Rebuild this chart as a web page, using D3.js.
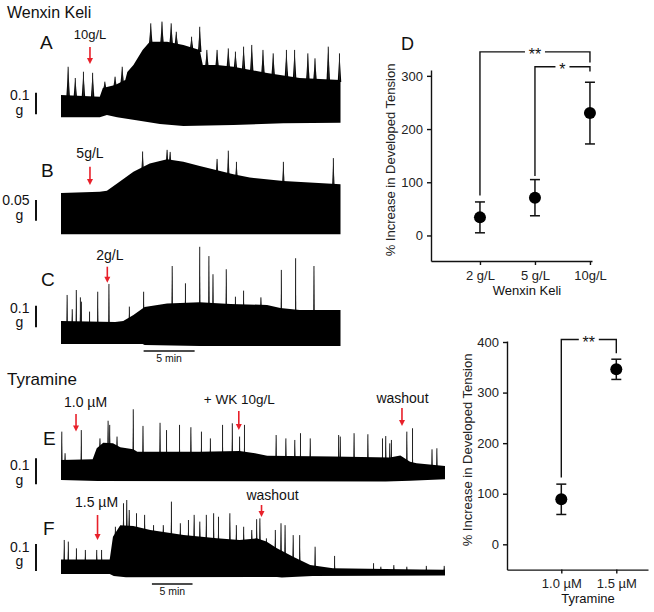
<!DOCTYPE html>
<html><head><meta charset="utf-8">
<script src="https://cdn.jsdelivr.net/npm/d3@7"></script>
<style>
body{margin:0;background:#fff;}
svg{display:block;font-family:"Liberation Sans",Arial,sans-serif;}
</style></head><body>
<svg id="chart" width="654" height="612"></svg>
<script>
// ---------------- DATA ----------------
// Tension traces: [time (min), tension (g)] relative to the initial resting level
const traceA_top = [[0,0.103],[3.8,0.095],[4.1,0.136],[5.3,0.150],[6.3,0.173],[6.5,0.210],[7.1,0.242],[8.0,0.312],[8.7,0.350],[10.4,0.350],[12.0,0.335],[13.6,0.312],[13.9,0.242],[15.3,0.242],[16.9,0.234],[20.2,0.205],[23.4,0.182],[27.4,0.173]];
const traceA_bottom = [[0,0],[3.8,0],[4.5,0.011],[5.5,0],[7.7,-0.016],[9.7,-0.031],[12.0,-0.040],[16.9,-0.036],[21.8,-0.028],[27.4,-0.025]];
const traceA_spikes = [[0.7,0.234],[1.4,0.182],[2.2,0.211],[3.1,0.206],[4.3,0.165],[5.3,0.188],[6.0,0.234],[8.8,0.435],[9.9,0.443],[10.8,0.435],[11.3,0.396],[12.8,0.373],[13.6,0.419],[14.3,0.312],[15.3,0.312],[16.4,0.319],[17.1,0.304],[17.9,0.327],[18.7,0.335],[19.8,0.312],[20.8,0.296],[22.1,0.312],[22.9,0.312],[24.2,0.296],[24.9,0.273],[26.2,0.327],[27.3,0.296]];

const traceB_top = [[0,0.100],[3.8,0.103],[4.5,0.105],[5.5,0.123],[7.1,0.151],[8.7,0.171],[10.4,0.181],[12.0,0.175],[13.6,0.165],[15.3,0.155],[16.9,0.145],[18.5,0.137],[21.8,0.129],[27.4,0.121]];
const traceB_bottom = [[0,0],[27.4,0]];
const traceB_spikes = [[8.0,0.200],[10.4,0.204],[10.7,0.199],[15.3,0.182],[16.4,0.202],[17.2,0.175],[21.8,0.175],[26.7,0.184]];

const traceC_top = [[0,0.106],[5.3,0.102],[6.1,0.106],[7.1,0.134],[8.2,0.171],[10.4,0.188],[13.6,0.193],[16.6,0.185],[20.2,0.181],[21.5,0.167],[23.4,0.157],[27.4,0.157]];
const traceC_bottom = [[0,0],[8.0,0],[8.2,-0.005],[13.6,-0.009],[27.4,-0.009]];
const traceC_spikes = [[0.6,0.227],[1.1,0.161],[1.5,0.250],[1.9,0.216],[2.0,0.196],[2.8,0.150],[3.6,0.242],[4.7,0.278],[6.7,0.173],[8.1,0.242],[10.9,0.361],[12.2,0.281],[13.6,0.450],[14.5,0.407],[14.9,0.323],[16.2,0.346],[17.1,0.219],[17.9,0.247],[19.6,0.216],[21.6,0.343],[23.0,0.397],[24.8,0.361]];

const traceE_top = [[0,0.077],[3.9,0.080],[4.4,0.122],[5.2,0.143],[6.4,0.141],[7.3,0.126],[8.9,0.118],[9.4,0.109],[17.1,0.109],[22.0,0.112],[23.9,0.103],[25.4,0.093],[33.5,0.090],[40.5,0.087],[41.8,0.094],[43.0,0.070],[43.8,0.064],[47.3,0.054]];
const traceE_bottom = [[0,0],[4.5,-0.004],[40,-0.006],[43,-0.003],[47.3,0.003]];
const traceE_spikes = [[0.1,0.186],[0.5,0.103],[2.5,0.192],[4.8,0.160],[5.8,0.228],[6.0,0.212],[6.9,0.167],[8.9,0.272],[10.1,0.208],[12.2,0.220],[13.0,0.192],[14.6,0.212],[16.0,0.203],[17.3,0.186],[18.4,0.160],[19.9,0.212],[21.1,0.218],[22.0,0.167],[22.6,0.212],[26.5,0.173],[27.7,0.160],[28.8,0.154],[29.5,0.180],[30.7,0.160],[34.2,0.173],[34.4,0.167],[36.1,0.180],[37.8,0.176],[39.6,0.160],[40.0,0.169],[40.5,0.141],[40.7,0.154],[42.6,0.186],[43.3,0.199],[45.7,0.118],[46.3,0.122]];

const traceF_top = [[0,0.054],[6.0,0.054],[6.4,0.138],[7.3,0.181],[8.9,0.178],[11.0,0.163],[15.1,0.144],[19.2,0.132],[22.0,0.126],[24.1,0.132],[25.3,0.120],[26.6,0.095],[28.6,0.064],[30.7,0.033],[33.5,0.021],[44.2,0.017],[47.3,0.016]];
const traceF_bottom = [[0,0],[6.0,0],[6.5,-0.007],[8.0,-0.012],[26.6,-0.011],[27.2,-0.013],[31,-0.007],[47.3,-0.006]];
const traceF_spikes = [[0.4,0.126],[0.9,0.120],[1.9,0.095],[3.0,0.089],[4.4,0.089],[5.0,0.089],[6.7,0.175],[7.7,0.262],[8.1,0.274],[8.4,0.237],[9.3,0.225],[10.3,0.219],[11.4,0.181],[12.6,0.181],[13.6,0.268],[14.7,0.188],[15.7,0.200],[16.4,0.219],[17.1,0.194],[17.9,0.219],[18.8,0.225],[19.4,0.212],[20.8,0.225],[21.6,0.181],[22.5,0.175],[23.5,0.163],[24.1,0.203],[24.5,0.206],[25.3,0.132],[26.4,0.163],[27.1,0.188],[27.6,0.181],[28.6,0.144],[29.4,0.144],[31.3,0.101],[33.7,0.067],[38.5,0.040],[39.4,0.027],[41.0,0.033],[42.6,0.027],[45.0,0.030],[47.2,0.030]];

// Drug additions (time, min) and labels
const eventsA_t = [2.84], eventsA_label = ["10g/L"];
const eventsB_t = [2.84], eventsB_label = ["5g/L"];
const eventsC_t = [4.54], eventsC_label = ["2g/L"];
const eventsE_t = [1.85, 21.9, 42.0], eventsE_label = ["1.0 µM", "+ WK 10g/L", "washout"];
const eventsF_t = [4.5, 24.7], eventsF_label = ["1.5 µM", "washout"];

// Summary dot plots (% increase in developed tension, mean ± SEM)
const wkDoses = ["2 g/L", "5 g/L", "10g/L"];
const wkMean = [34, 71, 230];
const wkSem = [29, 34, 58];
const wkTicks = [0, 100, 200, 300];
const wkBrackets = [[0, 2, 345, 75, 325, "**"], [1, 2, 317, 112, 308, "*"]];

const tyrDoses = ["1.0 µM", "1.5 µM"];
const tyrMean = [89, 346];
const tyrSem = [30, 20];
const tyrTicks = [0, 100, 200, 300, 400];
const tyrBrackets = [[0, 1, 405, 132, 378, "**"]];

// ---------------- DRAWING ----------------
const svg = d3.select("#chart");
svg.append("rect").attr("width", 654).attr("height", 612).attr("fill", "#fff");
const RED = "#e8202a";

function text(x, y, s, size, anchor, extra) {
  const t = svg.append("text").attr("x", x).attr("y", y).attr("font-size", size)
    .attr("text-anchor", anchor || "start").attr("fill", "#111").text(s);
  if (extra) extra(t);
  return t;
}

function arrow(x, y1, y2) {
  svg.append("line").attr("x1", x).attr("x2", x).attr("y1", y1).attr("y2", y2 - 5)
    .attr("stroke", RED).attr("stroke-width", 1.6);
  svg.append("path").attr("d", d3.line()([[x - 3, y2 - 6], [x + 3, y2 - 6], [x, y2]]) + "Z").attr("fill", RED);
}

function drawTrace(cfg) {
  const x = d3.scaleLinear().domain([0, cfg.dur]).range([cfg.x0, cfg.x1]);
  const y = d3.scaleLinear().domain([0, cfg.unit]).range([cfg.yBase, cfg.yBase - cfg.unitPx]);
  const env = d3.scaleLinear().domain(cfg.top.map(d => d[0])).range(cfg.top.map(d => d[1])).clamp(true);
  const g = svg.append("g");
  cfg.spikes.forEach(d => {
    const xb = x(d[0]), yb = y(env(d[0])) + 2, yp = y(d[1]);
    g.append("path").attr("d", d3.line()([[xb - cfg.hw, yb], [xb, yp], [xb + cfg.hw, yb]]) + "Z")
      .attr("fill", "#000");
    g.append("line").attr("x1", xb).attr("x2", xb).attr("y1", yb).attr("y2", yp)
      .attr("stroke", "#222").attr("stroke-width", 1);
  });
  const pts = cfg.top.map(d => [x(d[0]), y(d[1])])
    .concat(cfg.bottom.slice().reverse().map(d => [x(d[0]), y(d[1])]));
  g.append("path").attr("d", d3.line()(pts) + "Z").attr("fill", "#000");
  const len = y(0) - y(cfg.unit);
  svg.append("line").attr("x1", 36).attr("x2", 36).attr("y1", cfg.barTop).attr("y2", cfg.barTop + len)
    .attr("stroke", "#111").attr("stroke-width", 2);
  text(29.5, cfg.unitY, cfg.unitLabel, 14, "end");
  text(19.5, cfg.unitY + 14.5, "g", 14, "middle");
  text(cfg.letterX, cfg.letterY, cfg.letter, 19, "start");
  cfg.events.forEach((t, i) => {
    const a = cfg.arrows[i];
    arrow(x(t), a[0], a[1]);
    text(x(t) + a[3], a[2], cfg.labels[i], a[4] || 14, "middle");
  });
  if (cfg.timeBar) {
    const tb = cfg.timeBar;
    svg.append("line").attr("x1", x(tb[0])).attr("x2", x(tb[0] + 5)).attr("y1", tb[1]).attr("y2", tb[1])
      .attr("stroke", "#111").attr("stroke-width", 1.5);
    text((x(tb[0]) + x(tb[0] + 5)) / 2, tb[1] + 11, "5 min", 10.5, "middle");
  }
}

text(7, 18, "Wenxin Keli", 16, "start");
text(7, 385, "Tyramine", 17, "start");

drawTrace({dur: 27.4, x0: 61, x1: 340.5, unit: 0.1, unitPx: 21.6, yBase: 117.3,
  top: traceA_top, bottom: traceA_bottom, spikes: traceA_spikes, hw: 1.8,
  barTop: 92.7, unitY: 100, unitLabel: "0.1", letter: "A", letterX: 40, letterY: 49,
  events: eventsA_t, labels: eventsA_label, arrows: [[47, 64, 39, 0, 13]]});

drawTrace({dur: 27.4, x0: 61, x1: 340.5, unit: 0.05, unitPx: 20.7, yBase: 234.3,
  top: traceB_top, bottom: traceB_bottom, spikes: traceB_spikes, hw: 1.2,
  barTop: 200, unitY: 205, unitLabel: "0.05", letter: "B", letterX: 41, letterY: 177,
  events: eventsB_t, labels: eventsB_label, arrows: [[166.7, 185, 158.3, 0]]});

drawTrace({dur: 27.4, x0: 61, x1: 340.5, unit: 0.1, unitPx: 21.6, yBase: 344,
  top: traceC_top, bottom: traceC_bottom, spikes: traceC_spikes, hw: 0.6,
  barTop: 305.7, unitY: 312.7, unitLabel: "0.1", letter: "C", letterX: 41, letterY: 286,
  events: eventsC_t, labels: eventsC_label, arrows: [[266.7, 282.7, 260, 2.5]],
  timeBar: [8.1, 351]});

drawTrace({dur: 47.3, x0: 61, x1: 445, unit: 0.1, unitPx: 26, yBase: 480,
  top: traceE_top, bottom: traceE_bottom, spikes: traceE_spikes, hw: 0.6,
  barTop: 458.3, unitY: 470, unitLabel: "0.1", letter: "E", letterX: 43, letterY: 445,
  events: eventsE_t, labels: eventsE_label,
  arrows: [[414, 431.5, 406.5, 9.5], [411, 430, 403.5, 0.5, 13.5], [408, 426, 403, 0.5]]});

drawTrace({dur: 47.3, x0: 61, x1: 445, unit: 0.1, unitPx: 27, yBase: 574,
  top: traceF_top, bottom: traceF_bottom, spikes: traceF_spikes, hw: 0.7,
  barTop: 544, unitY: 551.7, unitLabel: "0.1", letter: "F", letterX: 43, letterY: 535,
  events: eventsF_t, labels: eventsF_label,
  arrows: [[515, 540, 506.7, -1], [505, 517, 500, 11]],
  timeBar: [11.2, 584]});

// ---------------- Dot plots ----------------
function dotPlot(cfg) {
  const x = d3.scalePoint().domain(cfg.cats).range([cfg.xl, cfg.xr]).padding(cfg.pad).align(cfg.align);
  const y = d3.scaleLinear().domain(cfg.ydom).range([cfg.yb, cfg.yt]);
  const g = svg.append("g");
  const xa = g.append("g").attr("transform", `translate(0,${cfg.yb})`)
    .call(d3.axisBottom(x).tickSize(4).tickSizeOuter(0).tickPadding(cfg.xpad));
  const ya = g.append("g").attr("transform", `translate(${cfg.xl},0)`)
    .call(d3.axisLeft(y).tickValues(cfg.ticks).tickSize(4).tickSizeOuter(0).tickPadding(4));
  [xa, ya].forEach(a => {
    a.selectAll("path,line").attr("stroke", "#111").attr("stroke-width", 1.4);
    a.selectAll("text").attr("font-size", 13).attr("fill", "#222")
      .attr("font-family", '"Liberation Sans",Arial,sans-serif');
  });
  cfg.brackets.forEach(b => {
    const xa0 = x(cfg.cats[b[0]]), xa1 = x(cfg.cats[b[1]]), yl = y(b[2]);
    g.append("path").attr("d", d3.line()([[xa0, y(b[3])], [xa0, yl], [xa1, yl], [xa1, y(b[4])]]))
      .attr("fill", "none").attr("stroke", "#111").attr("stroke-width", 1.4);
    const cx = (xa0 + xa1) / 2;
    const w = b[5].length * 6 + 8;
    g.append("rect").attr("x", cx - w / 2).attr("y", yl - 3).attr("width", w).attr("height", 6).attr("fill", "#fff");
    g.append("text").attr("x", cx).attr("y", yl + 8.5).attr("text-anchor", "middle")
      .attr("font-size", 16).attr("fill", "#111").text(b[5]);
  });
  cfg.cats.forEach((c, i) => {
    const cx = x(c), hi = y(cfg.mean[i] + cfg.sem[i]), lo = y(cfg.mean[i] - cfg.sem[i]);
    g.append("line").attr("x1", cx).attr("x2", cx).attr("y1", hi).attr("y2", lo)
      .attr("stroke", "#111").attr("stroke-width", 1.5);
    [hi, lo].forEach(v => g.append("line").attr("x1", cx - 5).attr("x2", cx + 5).attr("y1", v).attr("y2", v)
      .attr("stroke", "#111").attr("stroke-width", 1.5));
    g.append("circle").attr("cx", cx).attr("cy", y(cfg.mean[i])).attr("r", 6).attr("fill", "#000");
  });
  text(cfg.xTitleX, cfg.xTitleY, cfg.xTitle, 13, "middle");
  svg.append("text").attr("transform", `translate(${cfg.yTitleX},${cfg.yTitleY}) rotate(-90)`)
    .attr("dy", "0.35em").attr("text-anchor", "middle").attr("font-size", 13).attr("fill", "#222")
    .text("% Increase in Developed Tension");
}

dotPlot({cats: wkDoses, mean: wkMean, sem: wkSem, ticks: wkTicks, brackets: wkBrackets,
  xl: 431, xr: 592, pad: 0.4636, align: 0.96, ydom: [-48, 311], yb: 261, yt: 70, xpad: 6,
  xTitle: "Wenxin Keli", xTitleX: 527, xTitleY: 295, yTitleX: 390.7, yTitleY: 160});
text(401, 49.5, "D", 18, "start");

dotPlot({cats: tyrDoses, mean: tyrMean, sem: tyrSem, ticks: tyrTicks, brackets: tyrBrackets,
  xl: 507, xr: 648, pad: 0.7818, align: 0.6314, ydom: [-50, 402], yb: 569.6, yt: 341, xpad: 5,
  xTitle: "Tyramine", xTitleX: 588, xTitleY: 602.7, yTitleX: 467.7, yTitleY: 450});
</script>
</body></html>
